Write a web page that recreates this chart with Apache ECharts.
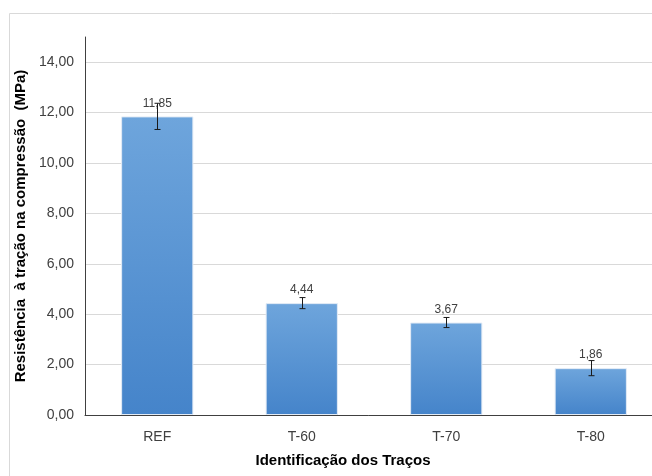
<!DOCTYPE html>
<html>
<head>
<meta charset="utf-8">
<script src="https://cdn.jsdelivr.net/npm/echarts@6/dist/echarts.min.js"></script>
<style>
  html, body { margin: 0; padding: 0; background: #fff; }
  #chart { width: 652px; height: 476px; }
</style>
</head>
<body>
<div id="chart"></div>
<script>
const categories = ['REF', 'T-60', 'T-70', 'T-80'];
const values = [11.85, 4.44, 3.67, 1.86];
const errors = [0.52, 0.22, 0.2, 0.3];
const yTicks = [0, 2, 4, 6, 8, 10, 12, 14];

const fmt = v => v.toFixed(2).replace('.', ',');

let chart = echarts.init(document.getElementById('chart'));

let option = {
    animation: false,
    textStyle: { fontFamily: 'Liberation Sans, Arial, sans-serif' },
    graphic: [
        {
            type: 'rect',
            shape: { x: 9.5, y: 13.5, width: 700, height: 500 },
            style: { fill: 'none', stroke: '#d9d9d9', lineWidth: 1 },
            silent: true
        },
        {
            type: 'text',
            x: 343,
            y: 461,
            style: {
                text: 'Identificação dos Traços',
                font: 'bold 15px "Liberation Sans", Arial, sans-serif',
                fill: '#000',
                align: 'center',
                verticalAlign: 'middle'
            }
        }
    ],
    grid: { left: 85, top: 37, bottom: 61, width: 578, outerBoundsMode: 'none' },
    xAxis: {
        type: 'category',
        data: categories,
        axisLine: { lineStyle: { color: '#404040', width: 1 } },
        axisTick: { show: false },
        axisLabel: { fontSize: 14, color: '#404040', margin: 15 }
    },
    yAxis: {
        type: 'value',
        min: 0,
        max: 15,
        interval: 2,
        name: 'Resistência  à tração na compressão  (MPa)',
        nameLocation: 'middle',
        nameGap: 55,
        nameTextStyle: { fontSize: 15, fontWeight: 'bold', color: '#000' },
        axisLine: { show: true, lineStyle: { color: '#404040', width: 1 } },
        axisTick: { show: false },
        axisLabel: {
            fontSize: 14,
            color: '#404040',
            margin: 11,
            showMaxLabel: false,
            formatter: v => (yTicks.indexOf(v) >= 0 ? fmt(v) : '')
        },
        splitLine: { showMaxLine: false, lineStyle: { color: '#d9d9d9', width: 1 } }
    },
    series: [
        {
            type: 'bar',
            data: values,
            barWidth: '50%',
            itemStyle: {
                color: new echarts.graphic.LinearGradient(0, 0, 0, 1, [
                    { offset: 0, color: '#6ea5dc' },
                    { offset: 1, color: '#4584ca' }
                ]),
                borderColor: '#e4ecf6',
                borderWidth: 1
            },
            label: {
                show: true,
                position: 'top',
                distance: 7,
                fontSize: 12,
                color: '#404040',
                formatter: p => fmt(p.value)
            }
        },
        {
            type: 'custom',
            data: values.map((v, i) => [i, v - errors[i], v + errors[i]]),
            z: 10,
            renderItem: function (params, api) {
                const lo = api.coord([api.value(0), api.value(1)]);
                const hi = api.coord([api.value(0), api.value(2)]);
                const x = Math.round(lo[0]) + 0.5;
                const cap = 3;
                const st = { stroke: '#1a1a1a', lineWidth: 1 };
                return {
                    type: 'group',
                    children: [
                        { type: 'line', shape: { x1: x, y1: hi[1], x2: x, y2: lo[1] }, style: st },
                        { type: 'line', shape: { x1: x - cap, y1: hi[1], x2: x + cap, y2: hi[1] }, style: st },
                        { type: 'line', shape: { x1: x - cap, y1: lo[1], x2: x + cap, y2: lo[1] }, style: st }
                    ]
                };
            }
        }
    ]
};

chart.setOption(option);

window.addEventListener('resize', function () {
    chart.resize();
});
</script>
</body>
</html>
